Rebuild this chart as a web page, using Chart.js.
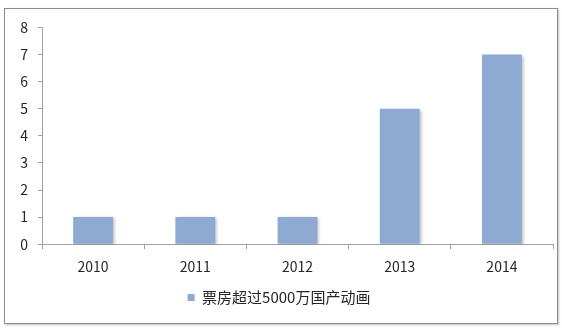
<!DOCTYPE html>
<html lang="zh">
<head>
    <meta charset="UTF-8">
    <title>票房超过5000万国产动画</title>
    <script src="https://cdn.jsdelivr.net/npm/chart.js@4.4.0/dist/chart.umd.min.js"></script>
    <style>
        body {
            margin: 0;
            background: #ffffff;
        }

        #box {
            position: absolute;
            left: 4px;
            top: 8px;
            width: 552px;
            height: 314px;
            border: 1px solid #8c8c8c;
            box-shadow: 1px 1px 2px rgba(0, 0, 0, 0.25);
            background: #ffffff;
        }
    </style>
</head>
<body>
    <div id="box">
        <canvas id="chart" width="552" height="314"></canvas>
    </div>

    <script>
        const years = ['2010', '2011', '2012', '2013', '2014'];
        const films = [1, 1, 1, 5, 7];
        const seriesName = '票房超过5000万国产动画';

        const fontFamily = '"Noto Sans CJK SC", "Liberation Sans", sans-serif';
        const barColor = '#8faad2';
        const axisColor = '#a0a0a0';
        const textColor = '#262626';

        // soft shadow on the bars, like the original office chart
        const barShadow = {
            id: 'barShadow',
            beforeDatasetsDraw(chart) {
                const ctx = chart.ctx;
                ctx.save();
                ctx.shadowColor = 'rgba(0, 0, 0, 0.25)';
                ctx.shadowBlur = 3;
                ctx.shadowOffsetX = 2;
                ctx.shadowOffsetY = 1;
            },
            afterDatasetsDraw(chart) {
                chart.ctx.restore();
            }
        };

        new Chart(document.getElementById('chart'), {
            type: 'bar',
            data: {
                labels: years,
                datasets: [{
                    label: seriesName,
                    data: films,
                    backgroundColor: barColor,
                    categoryPercentage: 1,
                    barPercentage: 0.39
                }]
            },
            options: {
                responsive: false,
                animation: false,
                layout: {
                    padding: { left: 0, right: 4, top: 10, bottom: 8 }
                },
                plugins: {
                    tooltip: { enabled: false },
                    legend: {
                        position: 'bottom',
                        labels: {
                            boxWidth: 7,
                            boxHeight: 7,
                            color: textColor,
                            padding: 6,
                            font: { family: fontFamily, size: 15 }
                        }
                    }
                },
                scales: {
                    x: {
                        grid: {
                            display: true,
                            drawOnChartArea: false,
                            drawTicks: true,
                            tickLength: 5,
                            color: axisColor
                        },
                        border: { display: true, color: axisColor, width: 1 },
                        ticks: {
                            color: textColor,
                            padding: 9,
                            font: { family: fontFamily, size: 14 }
                        }
                    },
                    y: {
                        min: 0,
                        max: 8,
                        afterFit(scale) { scale.width = 37; },
                        grid: {
                            display: true,
                            drawOnChartArea: false,
                            drawTicks: true,
                            tickLength: 4,
                            color: axisColor
                        },
                        border: { display: true, color: axisColor, width: 1 },
                        ticks: {
                            stepSize: 1,
                            color: textColor,
                            padding: 10,
                            font: { family: fontFamily, size: 14 }
                        }
                    }
                }
            },
            plugins: [barShadow]
        });
    </script>
</body>
</html>
